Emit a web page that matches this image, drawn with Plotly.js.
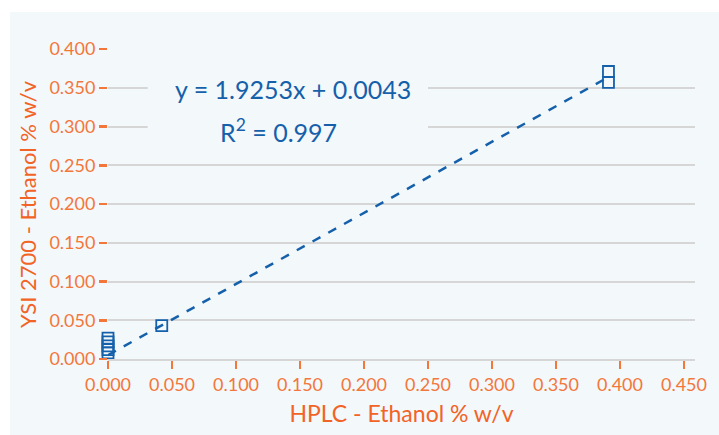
<!DOCTYPE html>
<html><head><meta charset="utf-8">
<script src="https://cdn.plot.ly/plotly-3.0.1.min.js"></script>
<style>
html,body{margin:0;padding:0;background:#ffffff;}
#chart{position:absolute;left:10px;top:12px;width:709px;height:423px;}
</style></head>
<body><div id="chart"></div>
<script>
// Data
const hplcX = [0, 0, 0, 0, 0, 0.042, 0.391, 0.391];
const ysiY  = [0.027, 0.022, 0.017, 0.012, 0.008, 0.043, 0.371, 0.357];
const trendX = [0, 0.388];
const trendY = [0.005, 0.361];
const eqText = 'y = 1.9253x + 0.0043';
const r2Text = 'R<sup>2</sup> = 0.997';
const xTitle = 'HPLC - Ethanol % w/v';
const yTitle = 'YSI 2700 - Ethanol % w/v';
const xTicks = [0, 0.05, 0.1, 0.15, 0.2, 0.25, 0.3, 0.35, 0.4, 0.45];
const yTicks = [0, 0.05, 0.1, 0.15, 0.2, 0.25, 0.3, 0.35, 0.4];

const orange = '#f4763a';
const orangeTitle = '#f26326';
const blue = '#1560aa';
const bg = '#f3f8fb';
const grid = '#d6d6d6';

const traces = [
  {x: trendX, y: trendY, mode: 'lines', line: {color: blue, width: 2.5, dash: 'dash'}, hoverinfo: 'skip', cliponaxis: false},
  {x: hplcX, y: ysiY, mode: 'markers', cliponaxis: false,
   marker: {symbol: 'square-open', size: 11, color: blue, line: {width: 1.8, color: blue}}}
];

const layout = {
  width: 709, height: 423,
  margin: {l: 98, r: 24, t: 37, b: 76},
  paper_bgcolor: bg, plot_bgcolor: bg,
  showlegend: false,
  font: {family: 'Lato, "Open Sans", sans-serif', color: orange},
  xaxis: {
    range: [0, 0.4586], tickvals: xTicks, ticktext: xTicks.map(v => v.toFixed(3)),
    showgrid: false, zeroline: false,
    showline: true, linecolor: grid, linewidth: 2,
    ticks: 'outside', ticklen: 8, tickwidth: 2.5, tickcolor: orange,
    tickfont: {size: 18, color: orange},
    title: {text: xTitle, font: {size: 23, color: orangeTitle}, standoff: 12}
  },
  yaxis: {
    range: [0, 0.4], tickvals: yTicks, ticktext: yTicks.map(v => v.toFixed(3)),
    showgrid: true, gridcolor: grid, gridwidth: 2, zeroline: false,
    showline: false,
    ticks: 'outside', ticklen: 8, tickwidth: 2.5, tickcolor: orange,
    tickfont: {size: 18, color: orange}
  },
  shapes: [
    {type: 'rect', xref: 'x', yref: 'y', x0: 0.031, x1: 0.25, y0: 0.28, y1: 0.37, fillcolor: bg, line: {width: 0}, layer: 'above'}
  ],
  annotations: [
    {x: 0.1445, y: 0.349, xref: 'x', yref: 'y', text: eqText, showarrow: false, font: {size: 25, color: blue}},
    {x: 0.1335, y: 0.295, xref: 'x', yref: 'y', text: r2Text, showarrow: false, font: {size: 25, color: blue}},
    {x: (17 - 98) / (709 - 98 - 24), xref: 'paper', xanchor: 'center', y: 0.5, yref: 'paper', yanchor: 'middle',
     text: yTitle, textangle: -90, showarrow: false, font: {size: 22, color: orangeTitle}}
  ]
};

Plotly.newPlot('chart', traces, layout, {displayModeBar: false, staticPlot: true});
</script></body></html>
